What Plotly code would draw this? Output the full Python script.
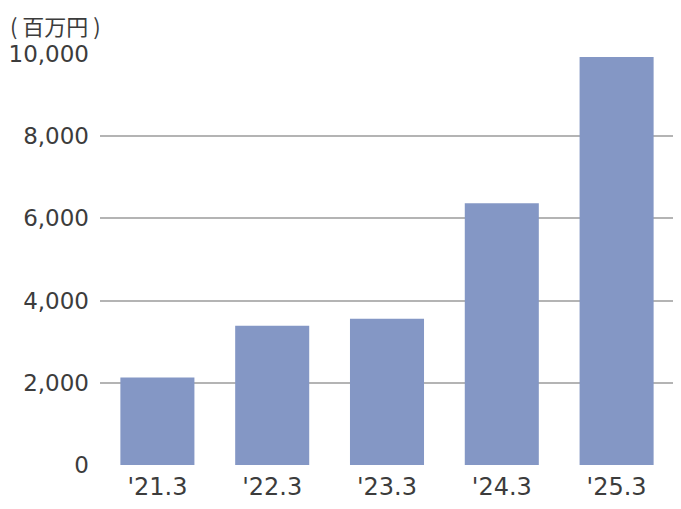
import plotly.graph_objects as go

categories = ["'21.3", "'22.3", "'23.3", "'24.3", "'25.3"]
values = [2130, 3390, 3560, 6370, 9930]
tick_vals = [0, 2000, 4000, 6000, 8000, 10000]
tick_text = ["0", "2,000", "4,000", "6,000", "8,000", "10,000"]
unit_label = "( 百万円 )"

FONT = "DejaVu Sans"
CJK = "Noto Sans CJK JP"
TEXT = "#3c3c3c"

fig = go.Figure(go.Bar(x=categories, y=values, marker=dict(color="#8497C5", line=dict(width=0))))

# page body has an 8px margin, so figure is 8px smaller and offsets compensate
fig.update_layout(
    width=673, height=501,
    margin=dict(l=92, r=7, t=46, b=44),
    paper_bgcolor="white", plot_bgcolor="white",
    bargap=0.355,
    showlegend=False,
    font=dict(family=FONT, color=TEXT, size=22),
)
fig.update_yaxes(
    range=[0, 10000], tickvals=tick_vals, ticktext=tick_text,
    showgrid=True, gridcolor="#b4b4b4", gridwidth=2,
    zeroline=False, showline=False, ticks="", ticklabelstandoff=10,
    automargin=False,
    tickfont=dict(family=FONT, size=23, color=TEXT),
)
fig.update_xaxes(
    showgrid=False, showline=False, ticks="", ticklabelstandoff=5,
    automargin=False,
    tickfont=dict(family=FONT, size=24, color=TEXT),
)
fig.add_annotation(
    text=unit_label, xref="paper", yref="paper", x=0, y=1,
    xanchor="left", yanchor="top", xshift=-91, yshift=46, borderpad=0,
    showarrow=False, font=dict(family=CJK, size=22, color=TEXT),
)

fig.write_html("out.html")
